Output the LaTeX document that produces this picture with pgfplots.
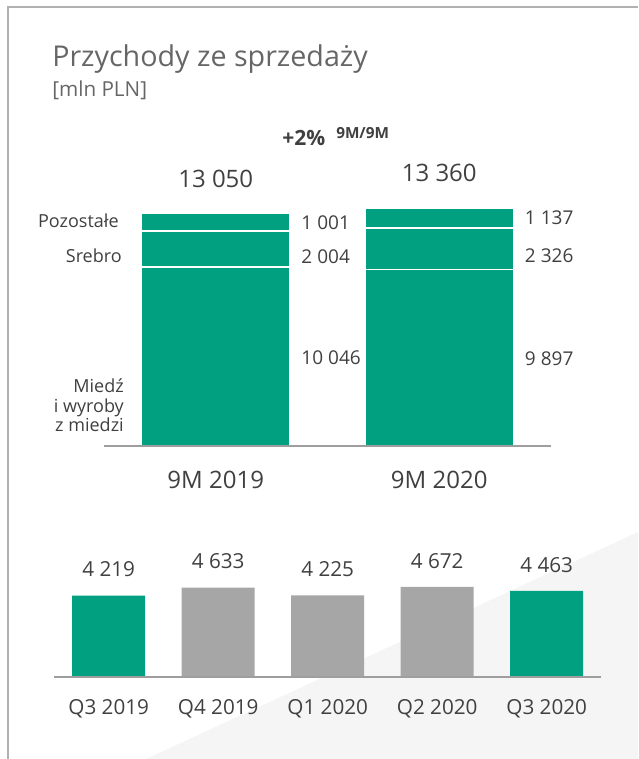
\documentclass[border=0pt]{standalone}
\usepackage{fontspec}
\setmainfont{Open Sans}
\usepackage{pgfplots}
\pgfplotsset{compat=1.18}

\definecolor{kgreen}{HTML}{00A080}
\definecolor{kgray}{HTML}{A6A6A6}
\definecolor{txt}{HTML}{404040}
\definecolor{ttl}{HTML}{666666}
\definecolor{axln}{HTML}{9E9E9E}
\definecolor{bgtri}{HTML}{F5F5F5}

\begin{document}
\begin{tikzpicture}
% page layout in pixel units (1px = 0.75pt, y downwards)
\begin{scope}[x=0.75pt,y=-0.75pt]
  \useasboundingbox (0,0) rectangle (638,759);
  \fill[bgtri] (638,532) -- (638,759) -- (146,759) -- cycle;
  \draw[axln!80, line width=1.1pt] (8,759) -- (8,7) -- (638,7);
  \node[anchor=base west, inner sep=0, text=ttl, font=\fontsize{21.5}{25}\selectfont] at (52,67) {Przychody ze sprzedaży};
  \node[anchor=base west, inner sep=0, text=ttl, font=\fontsize{15.5}{18}\selectfont] at (52,97) {[mln PLN]};
  \node[anchor=base west, inner sep=0, text=txt, font=\bfseries\fontsize{15.75}{18}\selectfont] at (282,146) {+2\%};
  \node[anchor=base west, inner sep=0, text=txt, font=\bfseries\fontsize{11.5}{13}\selectfont] at (336,139) {9M/9M};
  % segment names
  \begin{scope}[every node/.style={anchor=base east, inner sep=0, text=txt, font=\fontsize{13.5}{16}\selectfont}]
    \node at (119,227) {Pozostałe};
    \node at (122,262) {Srebro};
    \node at (124,392) {Miedź};
    \node at (124,412) {i wyroby};
    \node at (124,431) {z miedzi};
  \end{scope}
\end{scope}

% 9M stacked bars
\begin{axis}[
    at={(78pt,-334.5pt)}, anchor=south west,
    scale only axis, width=335.25pt, height=200.6pt,
    xmin=-0.5, xmax=1.5, ymin=0, ymax=15000,
    ybar stacked, bar width=111pt,
    axis x line*=bottom, axis y line=none,
    axis line style={axln, line width=1.1pt},
    axis on top, clip=false,
    xtick=data, xticklabels={9M 2019,9M 2020},
    major tick length=0pt, ytick=\empty,
    xticklabel style={anchor=north, inner sep=0pt, yshift=-18.4pt,
        text=txt, font=\fontsize{18}{21}\selectfont},
    every axis plot/.append style={fill=kgreen, draw=white, line width=1.1pt},
    every node near coord/.append style={text=txt, inner sep=0pt,
        font=\fontsize{14.25}{17}\selectfont},
    /pgf/number format/assume math mode=true,
    /pgf/number format/1000 sep={\ },
]
% Miedz i wyroby z miedzi
\addplot[nodes near coords,
    every node near coord/.append style={anchor=west, xshift=63.75pt, yshift=-1pt}]
    coordinates {(0,10046) (1,9897)};
% Srebro
\addplot[nodes near coords,
    every node near coord/.append style={anchor=west, xshift=63.75pt, yshift=-5.5pt}]
    coordinates {(0,2004) (1,2326)};
% Pozostale
\addplot[nodes near coords,
    every node near coord/.append style={anchor=west, xshift=63.75pt, yshift=0pt}]
    coordinates {(0,1001) (1,1137)};
\end{axis}

% totals above the 9M bars (same geometry, bars not drawn)
\begin{axis}[
    at={(78pt,-334.5pt)}, anchor=south west,
    scale only axis, width=335.25pt, height=200.6pt,
    xmin=-0.5, xmax=1.5, ymin=0, ymax=15000,
    ybar, bar width=111pt, bar shift=0pt,
    hide axis, clip=false,
    nodes near coords,
    every node near coord/.append style={anchor=center, inner sep=0pt, yshift=26pt,
        text=txt, font=\fontsize{18}{21}\selectfont},
    /pgf/number format/assume math mode=true,
    /pgf/number format/1000 sep={\ },
]
\addplot[draw=none, fill=none] coordinates {(0,13050) (1,13360)};
\end{axis}

% quarterly bars
\begin{axis}[
    at={(40.5pt,-507.75pt)}, anchor=south west,
    scale only axis, width=410.6pt, height=86.85pt,
    xmin=-0.5, xmax=4.5, ymin=0, ymax=6000,
    ybar, bar width=54.75pt, bar shift=0pt,
    axis x line*=bottom, axis y line=none,
    axis line style={axln, line width=1.1pt},
    axis on top, clip=false,
    xtick={0,1,2,3,4},
    xticklabels={Q3 2019,Q4 2019,Q1 2020,Q2 2020,Q3 2020},
    major tick length=0pt, ytick=\empty,
    xticklabel style={anchor=north, inner sep=0pt, yshift=-17pt,
        text=txt, font=\fontsize{15.5}{18}\selectfont},
    nodes near coords,
    every node near coord/.append style={anchor=center, inner sep=0pt, yshift=19.5pt,
        text=txt, font=\fontsize{15.5}{18}\selectfont},
    /pgf/number format/assume math mode=true,
    /pgf/number format/1000 sep={\ },
]
\addplot[fill=kgreen, draw=none] coordinates {(0,4219) (4,4463)};
\addplot[fill=kgray, draw=none] coordinates {(1,4633) (2,4225) (3,4672)};
\end{axis}
\end{tikzpicture}
\end{document}
